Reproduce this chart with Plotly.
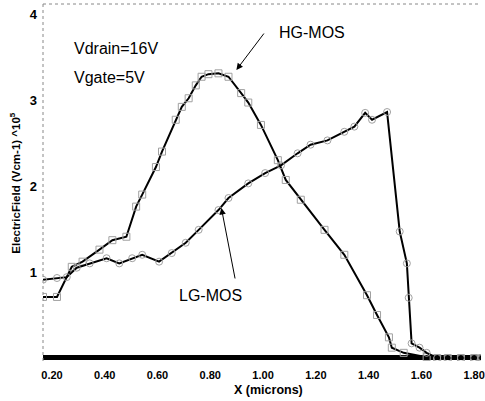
import plotly.graph_objects as go

# HG-MOS (squares)
hg_x = [0.166, 0.219, 0.275, 0.316, 0.380, 0.429, 0.482, 0.519, 0.542, 0.594, 0.617, 0.669,
        0.692, 0.718, 0.745, 0.767, 0.793, 0.831, 0.869, 0.917, 0.944, 0.992, 1.056, 1.086,
        1.143, 1.233, 1.308, 1.394, 1.432, 1.477, 1.488, 1.533, 1.620, 1.66, 1.70, 1.75, 1.80, 1.83]
hg_y = [0.71, 0.71, 1.06, 1.12, 1.26, 1.37, 1.41, 1.76, 1.90, 2.22, 2.40, 2.77,
        2.92, 3.02, 3.17, 3.27, 3.30, 3.31, 3.27, 3.08, 2.97, 2.71, 2.30, 2.07,
        1.84, 1.49, 1.20, 0.73, 0.50, 0.24, 0.12, 0.06, 0.01, 0.0, 0.0, 0.0, 0.0, 0.0]

# LG-MOS (circles)
lg_x = [0.166, 0.219, 0.256, 0.294, 0.343, 0.407, 0.455, 0.504, 0.542, 0.606, 0.654, 0.707,
        0.756, 0.831, 0.869, 0.944, 1.008, 1.068, 1.131, 1.180, 1.244, 1.308, 1.346, 1.387,
        1.413, 1.470, 1.518, 1.545, 1.552, 1.563, 1.593, 1.620, 1.66, 1.70, 1.75, 1.80, 1.83]
lg_y = [0.91, 0.93, 0.94, 1.05, 1.10, 1.16, 1.10, 1.16, 1.20, 1.12, 1.22, 1.34,
        1.49, 1.72, 1.86, 2.03, 2.15, 2.24, 2.38, 2.48, 2.53, 2.63, 2.69, 2.85,
        2.77, 2.86, 1.47, 1.10, 0.70, 0.17, 0.12, 0.06, 0.0, 0.0, 0.0, 0.0, 0.0]

x_ticks = [0.2, 0.4, 0.6, 0.8, 1.0, 1.2, 1.4, 1.6, 1.8]
x_tick_text = ["0.20", "0.40", "0.60", "0.80", "1.00", "1.20", "1.40", "1.60", "1.80"]
y_ticks = [1, 2, 3, 4]

FONT = "Liberation Sans, Arial, sans-serif"

fig = go.Figure()
fig.add_trace(go.Scatter(
    x=hg_x, y=hg_y, mode="lines+markers", name="HG-MOS",
    line=dict(color="black", width=2),
    marker=dict(symbol="square-open", size=7, color="#a0a0a0", line=dict(width=1, color="#a0a0a0")),
))
fig.add_trace(go.Scatter(
    x=lg_x, y=lg_y, mode="lines+markers", name="LG-MOS",
    line=dict(color="black", width=2),
    marker=dict(symbol="circle-open", size=7, color="#a0a0a0", line=dict(width=1, color="#a0a0a0")),
))

fig.update_layout(
    width=485, height=401,
    margin=dict(l=43, r=0, t=4, b=40),
    paper_bgcolor="white", plot_bgcolor="white",
    showlegend=False,
    font=dict(family=FONT, color="black"),
    xaxis=dict(
        range=[0.166, 1.826], tickvals=x_ticks, ticktext=x_tick_text,
        showgrid=False, zeroline=False, showline=False, ticks="",
        tickfont=dict(size=11, family=FONT, weight="bold"),
        ticklabeloverflow="allow", ticklabelstandoff=6,
    ),
    yaxis=dict(
        range=[-0.035, 4.116], tickvals=y_ticks,
        showgrid=False, zeroline=True, zerolinecolor="black", zerolinewidth=5,
        showline=False, ticks="",
        tickfont=dict(size=13, family=FONT, weight="bold"),
        ticklabelstandoff=5,
    ),
)

# dotted frame (left and top)
fig.add_shape(type="line", xref="paper", yref="paper", x0=0, x1=0, y0=0, y1=1,
              line=dict(color="#888888", width=1, dash="dot"))
fig.add_shape(type="line", xref="paper", yref="paper", x0=0, x1=1, y0=1, y1=1,
              line=dict(color="#888888", width=1, dash="dot"))

ann_font = dict(family=FONT, size=16, color="black")
fig.add_annotation(x=0.275, y=3.60, text="Vdrain=16V", showarrow=False, xanchor="left", font=ann_font)
fig.add_annotation(x=0.275, y=3.256, text="Vgate=5V", showarrow=False, xanchor="left", font=ann_font)
fig.add_annotation(x=1.184, y=3.79, text="HG-MOS", showarrow=False, font=ann_font)
fig.add_annotation(x=0.80, y=0.73, text="LG-MOS", showarrow=False, font=ann_font)

# arrows
fig.add_annotation(x=0.899, y=3.35, ax=1.0075, ay=3.79, axref="x", ayref="y", xref="x", yref="y",
                   text="", showarrow=True, arrowhead=2, arrowsize=1.3, arrowwidth=1, arrowcolor="black")
fig.add_annotation(x=0.842, y=1.744, ax=0.895, ay=0.907, axref="x", ayref="y", xref="x", yref="y",
                   text="", showarrow=True, arrowhead=2, arrowsize=1.3, arrowwidth=1, arrowcolor="black")

# axis titles
fig.add_annotation(xref="paper", yref="y", x=-28/442, y=2.03, text="ElectricField (Vcm-1) ^10<sup>5</sup>",
                   textangle=-90, showarrow=False, yanchor="middle", xanchor="center",
                   font=dict(family=FONT, size=11.5, weight="bold"))
fig.add_annotation(xref="x", yref="paper", x=1.019, y=-29/357, text="X (microns)", showarrow=False,
                   yanchor="middle", font=dict(family=FONT, size=12.5, weight="bold"))

fig.write_html("out.html")
